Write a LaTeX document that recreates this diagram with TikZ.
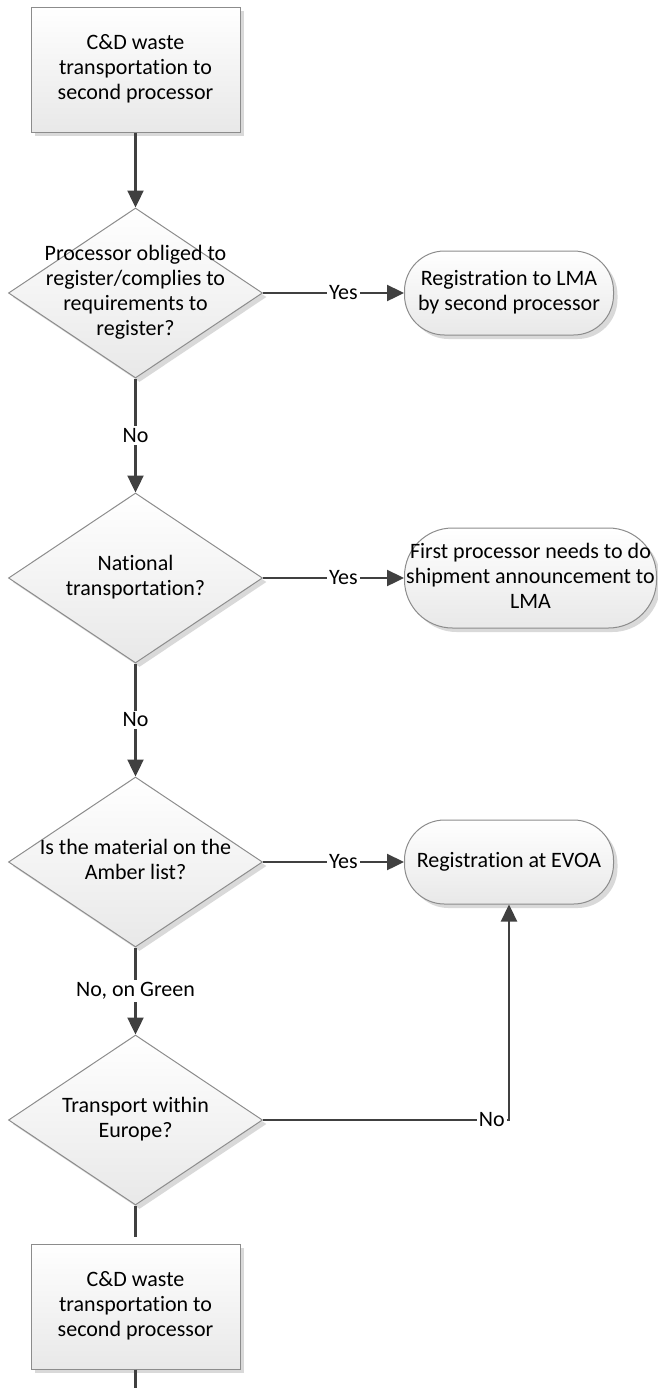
\documentclass[tikz,border=0pt]{standalone}
\usepackage{fontspec}
\setmainfont{Carlito}[Ligatures=NoCommon]
\usetikzlibrary{positioning, arrows.meta, shapes.geometric, shadows}
\definecolor{cLINE}{HTML}{404040}
\definecolor{cEDGE}{HTML}{8C8C8C}
\tikzset{
  shade/.style={
    draw=cEDGE, line width=0.5pt,
    top color=white, bottom color=black!9,
    drop shadow={shadow xshift=2pt, shadow yshift=-2pt, fill=black!15, opacity=1},
    inner sep=0pt,
    font=\fontsize{11}{12.5}\selectfont
  },
  procbox/.style={
    shade,
    minimum width=104.5pt,
    minimum height=62.5pt
  },
  decision/.style={
    shade, diamond,
    minimum width=127pt,
    minimum height=85pt
  },
  terminal/.style={
    shade,
    rounded corners=20pt,
    minimum width=104.5pt,
    minimum height=42pt
  },
  flow/.style={
    -{Triangle[length=8.5pt,width=8pt]},
    line width=1.2pt,
    draw=cLINE
  },
  link/.style={
    line width=1.2pt,
    draw=cLINE
  },
  answer/.style={
    font=\fontsize{11}{12.5}\selectfont,
    fill=white,
    inner sep=1pt
  }
}
\newcommand{\qtext}[1]{%
  \smash{\makebox[0pt]{\raisebox{-0.25em}{%
    \begin{tabular}{@{}c@{}}#1\end{tabular}}}}%
}

\begin{document}
\begin{tikzpicture}[node distance=37.5pt and 70.5pt]
  \useasboundingbox (0,0) rectangle (329pt,-694pt);

  \node[procbox] (haul) at (67.75pt,-34.75pt) {\qtext{C\&D waste\\transportation to\\second processor}};
  \node[decision, below=37.5pt of haul] (oblig) {\qtext{Processor obliged to\\register/complies to\\requirements to\\register?}};
  \node[terminal, right=of oblig] (lmareg) {\qtext{Registration to LMA\\by second processor}};
  \node[decision, below=57pt of oblig] (natl) {\qtext{National\\transportation?}};
  \node[terminal, minimum width=126pt, minimum height=50pt, rounded corners=24pt, right=of natl] (announce) {\qtext{First processor needs to do\\shipment announcement to\\LMA}};
  \node[decision, below=56.5pt of natl] (amber) {\qtext{Is the material on the\\Amber list?}};
  \node[terminal, right=of amber] (evoa) {\qtext{Registration at EVOA}};
  \node[decision, below=43.5pt of amber] (europe) {\qtext{Transport within\\Europe?}};
  \node[procbox, below=19pt of europe] (haulb) {\qtext{C\&D waste\\transportation to\\second processor}};
  \coordinate (exit) at ([yshift=-13pt]haulb.south);

  \draw[flow] (haul) -- (oblig);
  \draw[flow] (oblig) -- node[answer, pos=0.57]{Yes} (lmareg);
  \draw[flow] (oblig) -- node[answer]{No} (natl);
  \draw[flow] (natl) -- node[answer, pos=0.57]{Yes} (announce);
  \draw[flow] (natl) -- node[answer]{No} (amber);
  \draw[flow] (amber) -- node[answer, pos=0.57]{Yes} (evoa);
  \draw[flow] (amber) -- node[answer]{No, on Green} (europe);
  \draw[flow] (europe) -| node[answer, pos=0.5, left=0.6pt]{No} (evoa);
  \draw[link, shorten >=3.5pt] (europe) -- (haulb);
  \draw[link] (haulb) -- (exit);
\end{tikzpicture}
\end{document}
